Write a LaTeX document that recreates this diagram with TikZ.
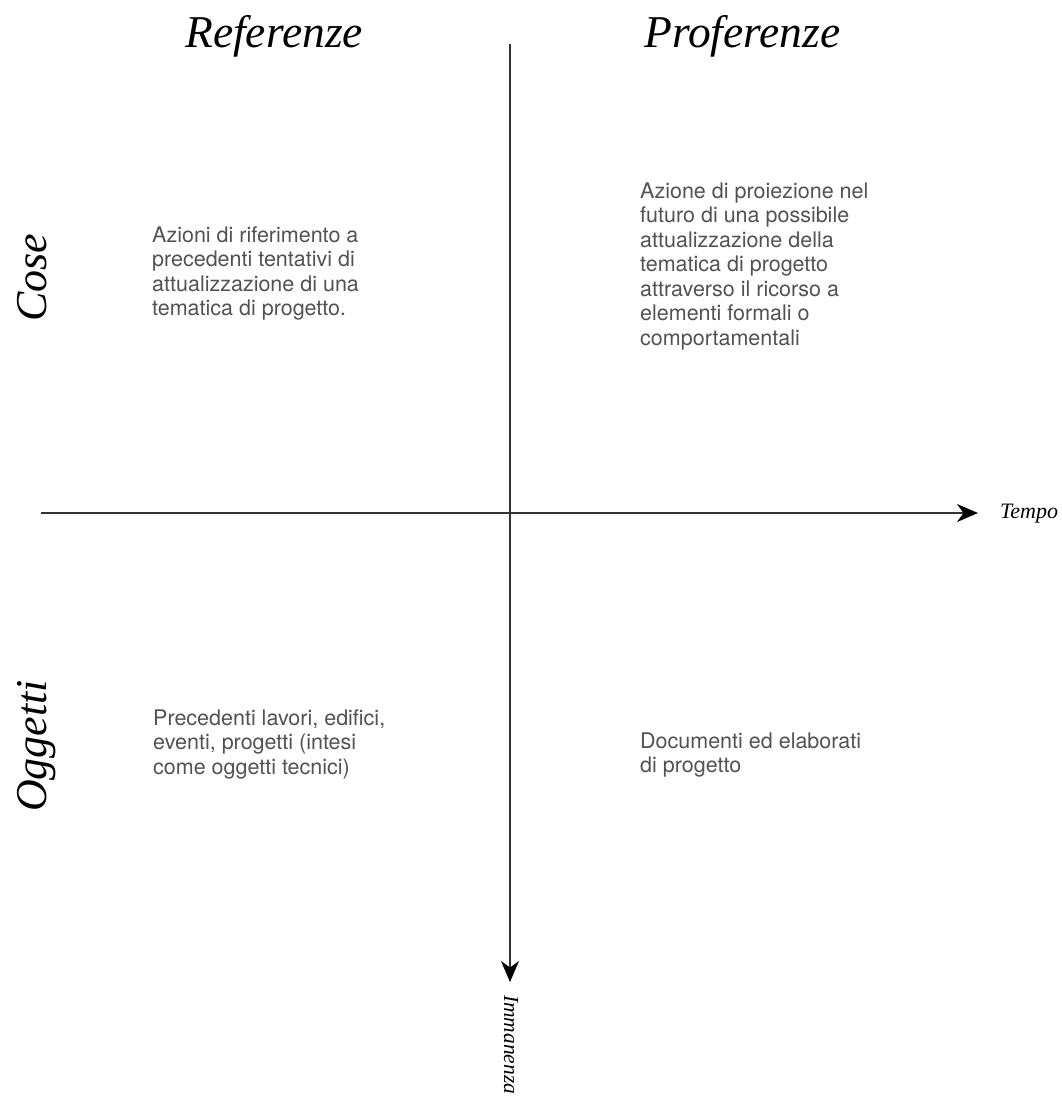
\documentclass[tikz,border=0pt]{standalone}
\usepackage{fontspec}
\setmainfont{Liberation Serif}
\newfontfamily\bodyfont{TeX Gyre Heros}
\usetikzlibrary{arrows.meta}
\begin{document}
\begin{tikzpicture}[x=1pt,y=-1pt,
  axis/.style={draw=black!80,line width=1.6pt,-{Stealth[length=21pt,width=18pt,inset=6.5pt,fill=black,color=black]}},
  title/.style={font=\fontsize{45.5}{50}\selectfont\itshape,inner sep=0pt},
  sidetitle/.style={font=\fontsize{44}{50}\selectfont\itshape,inner sep=0pt},
  axlabel/.style={font=\fontsize{22}{24}\selectfont\itshape,inner sep=0pt},
  body/.style={font=\bodyfont\fontsize{21.5}{24.5}\selectfont,text=black!68,align=left,inner sep=0pt,anchor=north west}]
\useasboundingbox[fill=white] (0,0) rectangle (1062,1104);
% axes
\coordinate (hstart) at (41,513);
\coordinate (hend) at (978,513);
\coordinate (vstart) at (510,44);
\coordinate (vend) at (510,982);
\draw[axis] (hstart) -- (hend);
\draw[axis] (vstart) -- (vend);
\node[axlabel,anchor=base west] (tempo) at (1000,518) {Tempo};
\node[axlabel,font=\fontsize{21.5}{24}\selectfont\itshape,anchor=base west,rotate=-90] (imm) at (504,995) {Immanenza};
% titles
\node[title,anchor=base west] (ref) at (185,47) {Referenze};
\node[title,anchor=base west] (pro) at (644,47) {Proferenze};
\node[sidetitle,anchor=base west,rotate=90] (cose) at (46,322) {Cose};
\node[sidetitle,anchor=base west,rotate=90] (ogg) at (46,812) {Oggetti};
% quadrant texts
\node[body] (q1) at (152,226.5) {Azioni di riferimento a\\precedenti tentativi di\\attualizzazione di una\\tematica di progetto.};
\node[body] (q2) at (640,182.5) {Azione di proiezione nel\\futuro di una possibile\\attualizzazione della\\tematica di progetto\\attraverso il ricorso a\\elementi formali o\\comportamentali};
\node[body] (q3) at (153,709.5) {Precedenti lavori, edifici,\\eventi, progetti (intesi\\come oggetti tecnici)};
\node[body] (q4) at (640,732.5) {Documenti ed elaborati\\di progetto};
\end{tikzpicture}
\end{document}
